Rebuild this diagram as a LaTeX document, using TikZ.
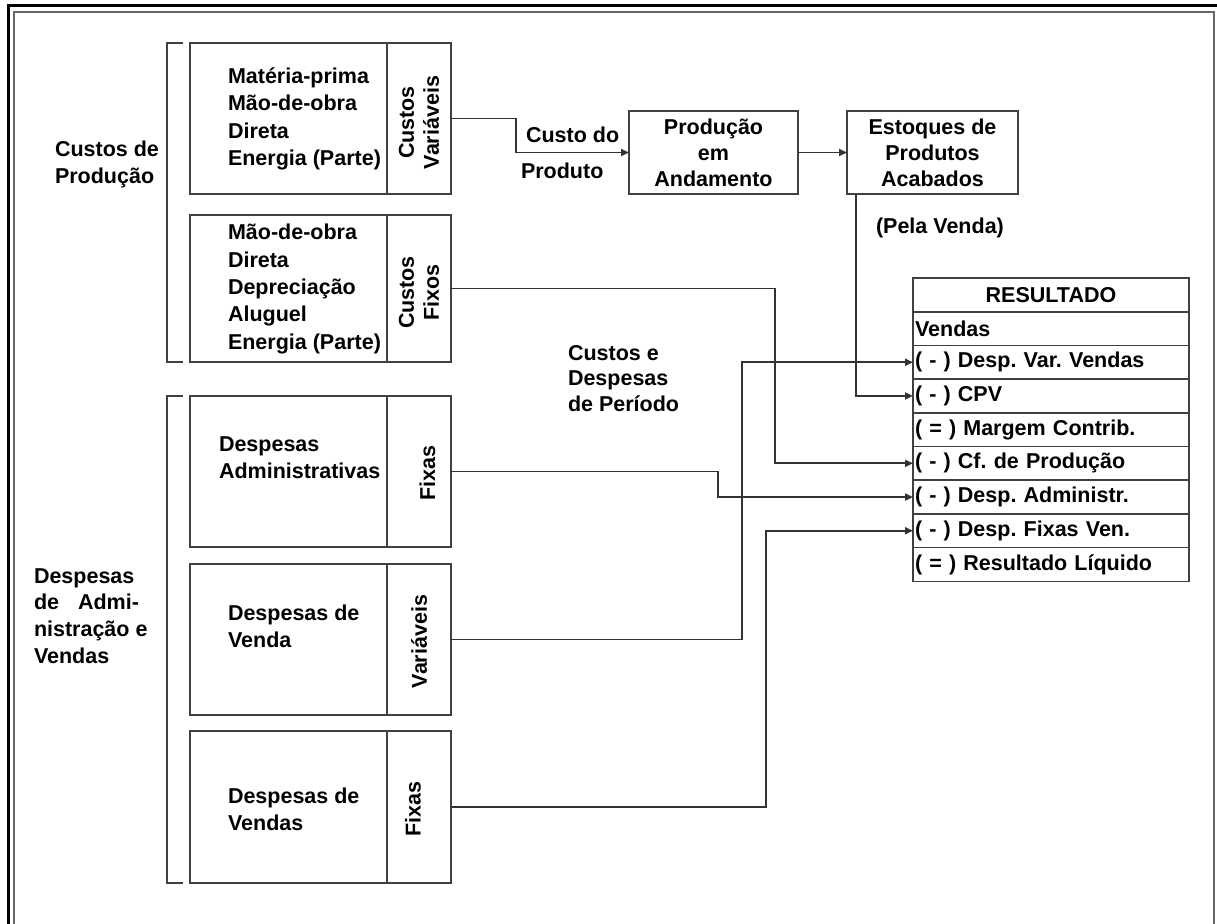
\documentclass[tikz,border=0pt]{standalone}
\usepackage{fontspec}
\setmainfont{Liberation Sans}
\usetikzlibrary{arrows.meta}
\frenchspacing
\begin{document}
\begin{tikzpicture}[x=1pt,y=-1pt,
  every node/.style={font=\bfseries\fontsize{21.5pt}{27.3pt}\selectfont, outer sep=0pt},
  cbox/.style={draw=black!75, line width=1.8pt, anchor=north west, minimum width=197pt, inner sep=0pt},
  lbox/.style={draw=black!75, line width=1.8pt, anchor=north west, minimum width=64pt, inner sep=0pt},
  txt/.style={anchor=west, align=left, inner sep=0pt},
  vtxt/.style={rotate=90, align=center, inner sep=0pt, font=\bfseries\fontsize{21.5pt}{25pt}\selectfont},
  conn/.style={draw=black!80, line width=1.8pt, -{Triangle[length=8pt,width=7pt]}},
  lnk/.style={draw=black!75, line width=1.8pt},
  fbox/.style={draw=black!75, line width=1.8pt, anchor=north west, minimum height=83pt, inner sep=0pt, align=center, font=\bfseries\fontsize{21.5pt}{26pt}\selectfont},
  trow/.style={draw=black!75, line width=1.6pt, anchor=north west, text width=272pt, inner xsep=2pt, inner ysep=0pt, minimum height=33.7pt, align=left},
  thead/.style={trow, align=center}
]
\useasboundingbox (0,0) rectangle (1217,923);
\clip (0,0) rectangle (1217,923);
% frame
\draw[line width=3pt, black] (8,6) rectangle (1250,960);
\draw[line width=2pt, black!60] (14,12) rectangle (1214,960);

% production cost boxes
\node[cbox, minimum height=151pt] (b1) at (190,43) {};
\node[lbox, minimum height=151pt] (b1r) at (387,43) {};
\node[cbox, minimum height=147pt] (b2) at (190,215) {};
\node[lbox, minimum height=147pt] (b2r) at (387,215) {};
% expense boxes
\node[cbox, minimum height=151pt] (b3) at (190,396) {};
\node[lbox, minimum height=151pt] (b3r) at (387,396) {};
\node[cbox, minimum height=151pt] (b4) at (190,564) {};
\node[lbox, minimum height=151pt] (b4r) at (387,564) {};
\node[cbox, minimum height=152pt] (b5) at (190,731) {};
\node[lbox, minimum height=152pt] (b5r) at (387,731) {};

% brackets
\draw[lnk] ([xshift=-7pt]b1.north west) -- ++(-16,0) |- ([xshift=-7pt]b2.south west);
\draw[lnk] ([xshift=-7pt]b3.north west) -- ++(-16,0) |- ([xshift=-7pt]b5.south west);

% left labels
\node[txt] (l1) at (55,164.5) {Custos de\\Produção};
\node[txt, font=\bfseries\fontsize{21.5pt}{26.7pt}\selectfont] (l2) at (34,616) {Despesas\\de\hspace{19pt}Admi-\\nistração e\\Vendas};

% box texts
\node[txt] (t1) at (228,119) {Matéria-prima\\Mão-de-obra\\Direta\\Energia (Parte)};
\node[txt] (t2) at (228,289) {Mão-de-obra\\Direta\\Depreciação\\Aluguel\\Energia (Parte)};
\node[txt] (t3) at (219,457.5) {Despesas\\Administrativas};
\node[txt] (t4) at (228,626.5) {Despesas de\\Venda};
\node[txt] (t5) at (228,809) {Despesas de\\Vendas};

% vertical labels
\node[vtxt, xshift=-4pt] (v1) at (b1r.center) {Custos\\Variáveis};
\node[vtxt, xshift=-4pt] (v2) at (b2r.center) {Custos\\Fixos};
\node[vtxt, xshift=-2pt, yshift=-8.5pt] (v3) at (b3r.center) {Fixas};
\node[vtxt, xshift=-2pt] (v4) at (b4r.center) {Variáveis};
\node[vtxt, xshift=-2pt, yshift=6pt] (v5) at (b5r.center) {Fixas};

% flow boxes
\node[fbox, minimum width=169pt] (prod) at (629,111) {Produção\\em\\Andamento};
\node[fbox, minimum width=171pt] (est) at (847,111) {Estoques de\\Produtos\\Acabados};

% middle texts
\node[txt] (cd) at (526,135) {Custo do};
\node[txt] (cp) at (521,171) {Produto};
\node[txt] (pv) at (876,228) {(Pela Venda)};
\node[txt, font=\bfseries\fontsize{21.5pt}{25.5pt}\selectfont] (cdp) at (568,378.5) {Custos e\\Despesas\\de Período};

% result table
\node[thead] (r0) at (913,278) {RESULTADO};
\node[trow] (r1) at (r0.south west) {Vendas};
\node[trow] (r2) at (r1.south west) {( - ) Desp. Var. Vendas};
\node[trow] (r3) at (r2.south west) {( - ) CPV};
\node[trow] (r4) at (r3.south west) {( = ) Margem Contrib.};
\node[trow] (r5) at (r4.south west) {( - ) Cf. de Produção};
\node[trow] (r6) at (r5.south west) {( - ) Desp. Administr.};
\node[trow] (r7) at (r6.south west) {( - ) Desp. Fixas Ven.};
\node[trow] (r8) at (r7.south west) {( = ) Resultado Líquido};

% connectors
\draw[conn] (b1r.east) -- ++(65,0) |- (prod.west);
\draw[conn] (prod.east) -- (est.west);
\draw[conn] ([xshift=9pt]est.south west) |- (r3.west);
\draw[conn] (b2r.east) -- ++(324,0) |- (r5.west);
\draw[conn] (b3r.east) -- ++(267,0) |- (r6.west);
\draw[conn] (b4r.east) -- ++(291,0) |- (r2.west);
\draw[conn] (b5r.east) -- ++(315,0) |- (r7.west);
\end{tikzpicture}
\end{document}
